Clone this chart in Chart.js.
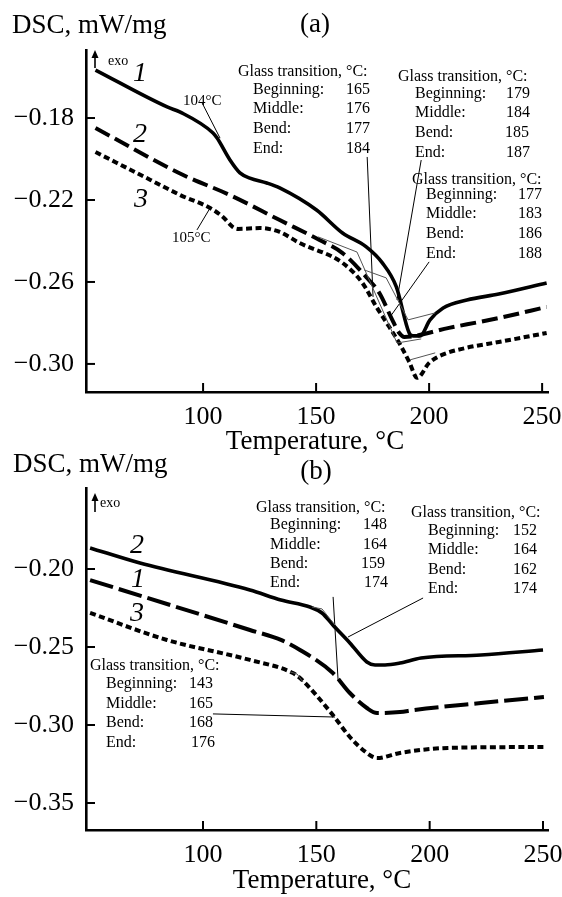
<!DOCTYPE html>
<html><head><meta charset="utf-8">
<script src="https://cdn.jsdelivr.net/npm/chart.js@4.4.1/dist/chart.umd.min.js"></script>
<style>
html,body{margin:0;padding:0;background:#fff;}
body{width:562px;height:897px;position:relative;overflow:hidden;}
canvas{position:absolute;left:0;}
#ca{top:0;}
#cb{top:452px;}
</style></head><body>
<canvas id="ca" width="562" height="460"></canvas>
<canvas id="cb" width="562" height="445"></canvas>
<script>
// ---------- DATA ----------
const xTicks = [100, 150, 200, 250];
const yTicksA = [-0.18, -0.22, -0.26, -0.30];
const yTicksB = [-0.20, -0.25, -0.30, -0.35];

// Panel (a)
const tempA1 = [52.4, 84.1, 89.9, 104.4, 106.2, 111.9, 116.3, 120.7, 128.2, 133.9, 150.2, 161.7, 172.2, 179.3, 185.5, 191.2, 193.0, 196.0, 200.4, 206.2, 216.7, 230.8, 252.0];
const dscA1  = [-0.1566, -0.1746, -0.1771, -0.1873, -0.1898, -0.2005, -0.2068, -0.2093, -0.2117, -0.2141, -0.2249, -0.2361, -0.2429, -0.2507, -0.2624, -0.2849, -0.2863, -0.2863, -0.2785, -0.2727, -0.2688, -0.2659, -0.2605];
const tempA2 = [52.4, 91.2, 111.9, 133.9, 151.5, 161.7, 172.2, 178.0, 183.7, 186.8, 189.0, 208.8, 230.8, 252.0];
const dscA2  = [-0.1849, -0.2078, -0.2176, -0.2298, -0.2395, -0.2459, -0.2576, -0.2654, -0.2785, -0.2849, -0.2868, -0.2824, -0.2776, -0.2722];
const tempA3 = [52.4, 76.7, 89.9, 103.1, 108.8, 113.2, 115.4, 125.1, 133.9, 142.7, 161.7, 170.5, 176.7, 182.4, 186.8, 191.2, 194.7, 200.0, 205.7, 216.3, 230.8, 252.0];
const dscA3  = [-0.1966, -0.2102, -0.2176, -0.2239, -0.2283, -0.2332, -0.2341, -0.2337, -0.2356, -0.2410, -0.2507, -0.2605, -0.2722, -0.2820, -0.2898, -0.2990, -0.3068, -0.2995, -0.2956, -0.2922, -0.2893, -0.2849];
// tangent constructions (a)
const thinA1T = [150.9, 168.1, 185.8, 196.5], thinA1V = [-0.2380, -0.2454, -0.2898, -0.2878];
const thinA2T = [171.2, 181.0, 190.7, 202.7], thinA2V = [-0.2541, -0.2580, -0.2785, -0.2751];
const thinA3T = [191.6, 202.7], thinA3V = [-0.2980, -0.2946];
// leader lines (a)
const leadA104T = [99.6, 107.5], leadA104V = [-0.1727, -0.1898];
const leadA105T = [97.3, 103.1], leadA105V = [-0.2346, -0.2239];
const leadA1T = [172.6, 175.2], leadA1V = [-0.1990, -0.2673];
const leadA2T = [196.5, 185.8], leadA2V = [-0.2005, -0.2688];
const leadA3T = [200.0, 182.7], leadA3V = [-0.2502, -0.2771];

// Panel (b)
const tempB2 = [50.2, 72.2, 120.7, 134.4, 147.2, 152.5, 157.3, 164.8, 172.3, 175.9, 180.3, 186.9, 196.2, 222.6, 250.0];
const dscB2  = [-0.1865, -0.1962, -0.2135, -0.2199, -0.2244, -0.2282, -0.2359, -0.2474, -0.2596, -0.2615, -0.2615, -0.2603, -0.2571, -0.2551, -0.2519];
const tempB1 = [50.2, 120.7, 134.4, 142.8, 157.3, 164.8, 172.3, 176.8, 186.9, 193.0, 222.6, 250.4];
const dscB1  = [-0.2071, -0.2391, -0.2455, -0.2519, -0.2667, -0.2795, -0.2891, -0.2923, -0.2917, -0.2904, -0.2859, -0.2821];
const tempB3 = [50.2, 84.1, 120.7, 139.7, 142.8, 157.3, 164.8, 172.3, 176.8, 186.9, 208.1, 250.4];
const dscB3  = [-0.2282, -0.2455, -0.2583, -0.2667, -0.2699, -0.2936, -0.3077, -0.3179, -0.3212, -0.3179, -0.3147, -0.3141];
const thinB2T = [148.1, 152.5, 158.2], thinB2V = [-0.2244, -0.2256, -0.2359];
const thinB3T = [138.4, 141.5, 144.1], thinB3V = [-0.2660, -0.2673, -0.2724];
const leadB1T = [157.4, 159.6], leadB1V = [-0.2179, -0.2712];
const leadB2T = [197.1, 164.0], leadB2V = [-0.2186, -0.2436];
const leadB3T = [104.4, 158.2], leadB3V = [-0.2929, -0.2949];

// Annotation texts
const glassHeader = 'Glass transition, °C:';
const glassLabels = ['Beginning:', 'Middle:', 'Bend:', 'End:'];
const blockA1 = ['165', '176', '177', '184'];
const blockA2 = ['179', '184', '185', '187'];
const blockA3 = ['177', '183', '186', '188'];
const blockB1 = ['148', '164', '159', '174'];
const blockB2 = ['152', '164', '162', '174'];
const blockB3 = ['143', '165', '168', '176'];

// ---------- HELPERS ----------
const SERIF = '"Liberation Serif", "Times New Roman", serif';
function pts(T, V) { return T.map((t, i) => ({x: t, y: V[i]})); }
function curve(T, V, width, dash) {
  return {data: pts(T, V), showLine: true, borderColor: '#000', borderWidth: width,
    borderDash: dash, borderCapStyle: 'butt', pointRadius: 0, cubicInterpolationMode: 'monotone', fill: false};
}
function thin(T, V, color) {
  return {data: pts(T, V), showLine: true, borderColor: color || '#333', borderWidth: 1,
    pointRadius: 0, tension: 0, fill: false};
}
function fmtY(v) { return (v < 0 ? '\u2212' : '') + Math.abs(v).toFixed(2); }

function textPlugin(items, arrow) {
  return {
    id: 'texts',
    afterDraw(chart) {
      const ctx = chart.ctx, ca = chart.chartArea;
      const xs = chart.scales.x, ys = chart.scales.y;
      ctx.save();
      // inward tick marks
      ctx.strokeStyle = '#000'; ctx.lineWidth = 2;
      xs.ticks.forEach(t => { const p = xs.getPixelForValue(t.value);
        ctx.beginPath(); ctx.moveTo(p, ca.bottom); ctx.lineTo(p, ca.bottom - 9); ctx.stroke(); });
      ys.ticks.forEach(t => { const p = ys.getPixelForValue(t.value);
        ctx.beginPath(); ctx.moveTo(ca.left, p); ctx.lineTo(ca.left + 9, p); ctx.stroke(); });
      // exo arrow
      ctx.lineWidth = 1.6;
      ctx.beginPath(); ctx.moveTo(arrow.x, arrow.y1); ctx.lineTo(arrow.x, arrow.y2 + 5); ctx.stroke();
      ctx.fillStyle = '#000';
      ctx.beginPath(); ctx.moveTo(arrow.x, arrow.y2); ctx.lineTo(arrow.x - 3.5, arrow.y2 + 8); ctx.lineTo(arrow.x + 3.5, arrow.y2 + 8); ctx.closePath(); ctx.fill();
      // texts
      ctx.textBaseline = 'alphabetic';
      items.forEach(it => {
        ctx.font = (it.italic ? 'italic ' : '') + it.size + 'px ' + SERIF;
        ctx.textAlign = it.align || 'left';
        ctx.fillText(it.t, it.x, it.y);
      });
      ctx.restore();
    }
  };
}
function blockItems(hx, hy, lx, vx, rows, values, size) {
  const out = [{t: glassHeader, x: hx, y: hy, size: size}];
  glassLabels.forEach((l, i) => {
    out.push({t: l, x: lx, y: rows[i], size: size});
    out.push({t: values[i], x: vx[i], y: rows[i], size: size});
  });
  return out;
}

function makeChart(id, datasets, xr, yr, yTicks, padTop, axisH, items, arrow) {
  return new Chart(document.getElementById(id), {
    type: 'scatter',
    data: {datasets: datasets},
    options: {
      responsive: false, animation: false, devicePixelRatio: 1,
      layout: {padding: {top: padTop, right: 14, left: 0, bottom: 0}},
      plugins: {legend: {display: false}, tooltip: {enabled: false}},
      scales: {
        x: {type: 'linear', min: xr[0], max: xr[1],
          afterBuildTicks: s => { s.ticks = xTicks.map(v => ({value: v})); },
          afterFit: s => { s.height = axisH; s.paddingLeft = 0; s.paddingRight = 0; },
          grid: {display: false, drawTicks: false},
          border: {display: true, color: '#000', width: 2.6},
          ticks: {color: '#000', padding: 10, font: {family: SERIF, size: 26}, maxRotation: 0,
            callback: v => String(v)}},
        y: {type: 'linear', min: yr[0], max: yr[1],
          afterBuildTicks: s => { s.ticks = yTicks.map(v => ({value: v})); },
          afterFit: s => { s.width = 86; },
          grid: {display: false, drawTicks: false},
          border: {display: true, color: '#000', width: 2.6},
          ticks: {color: '#000', padding: 12, font: {family: SERIF, size: 26}, callback: v => fmtY(v)}}
      }
    },
    plugins: [textPlugin(items, arrow)]
  });
}

// ---------- PANEL (a) ----------
const itemsA = [
  {t: 'DSC, mW/mg', x: 12, y: 33, size: 27},
  {t: '(a)', x: 315, y: 32, size: 27, align: 'center'},
  {t: 'exo', x: 108, y: 65, size: 14},
  {t: '1', x: 140, y: 81, size: 28, italic: true, align: 'center'},
  {t: '2', x: 140, y: 142, size: 28, italic: true, align: 'center'},
  {t: '3', x: 141, y: 207, size: 28, italic: true, align: 'center'},
  {t: '104°C', x: 183, y: 105, size: 15},
  {t: '105°C', x: 172, y: 242, size: 15},
  {t: 'Temperature, °C', x: 315, y: 449, size: 27, align: 'center'}
].concat(
  blockItems(238, 76, 253, [346, 346, 346, 346], [94, 113, 133, 153], blockA1, 16),
  blockItems(398, 81, 415, [506, 506, 505, 506], [98, 117, 137, 157], blockA2, 16),
  blockItems(412, 184, 426, [518, 518, 518, 518], [199, 218, 238, 258], blockA3, 16)
);
makeChart('ca', [
  thin(thinA1T, thinA1V, '#555'), thin(thinA2T, thinA2V, '#555'), thin(thinA3T, thinA3V, '#555'),
  thin(leadA104T, leadA104V, '#000'), thin(leadA105T, leadA105V, '#000'),
  thin(leadA1T, leadA1V, '#000'), thin(leadA2T, leadA2V, '#000'), thin(leadA3T, leadA3V, '#000'),
  curve(tempA3, dscA3, 4, [6, 3.5]),
  curve(tempA2, dscA2, 4, [16, 6]),
  curve(tempA1, dscA1, 3.6, [])
], [48.2, 252.6], [-0.3137, -0.1468], yTicksA, 50, 68, itemsA, {x: 95, y1: 68, y2: 50});

// ---------- PANEL (b) ----------
const itemsB = [
  {t: 'DSC, mW/mg', x: 13, y: 20, size: 27},
  {t: '(b)', x: 316, y: 27, size: 27, align: 'center'},
  {t: 'exo', x: 100, y: 55, size: 14},
  {t: '2', x: 137, y: 101, size: 28, italic: true, align: 'center'},
  {t: '1', x: 138, y: 135, size: 28, italic: true, align: 'center'},
  {t: '3', x: 137, y: 169, size: 28, italic: true, align: 'center'},
  {t: 'Temperature, °C', x: 322, y: 436, size: 27, align: 'center'}
].concat(
  blockItems(256, 60, 270, [363, 363, 361, 364], [77, 97, 116, 135], blockB1, 16),
  blockItems(411, 65, 428, [513, 513, 513, 513], [83, 102, 122, 141], blockB2, 16),
  blockItems(90, 218, 106, [189, 189, 189, 191], [236, 256, 275, 295], blockB3, 16)
);
makeChart('cb', [
  thin(thinB2T, thinB2V, '#555'), thin(thinB3T, thinB3V, '#555'),
  thin(leadB1T, leadB1V, '#000'), thin(leadB2T, leadB2V, '#000'), thin(leadB3T, leadB3V, '#000'),
  curve(tempB3, dscB3, 4, [6, 3.5]),
  curve(tempB1, dscB1, 4, [24, 6]),
  curve(tempB2, dscB2, 3.6, [])
], [48.4, 252.2], [-0.3673, -0.1481], yTicksB, 36, 67, itemsB, {x: 95, y1: 60, y2: 41});
</script>
</body></html>
